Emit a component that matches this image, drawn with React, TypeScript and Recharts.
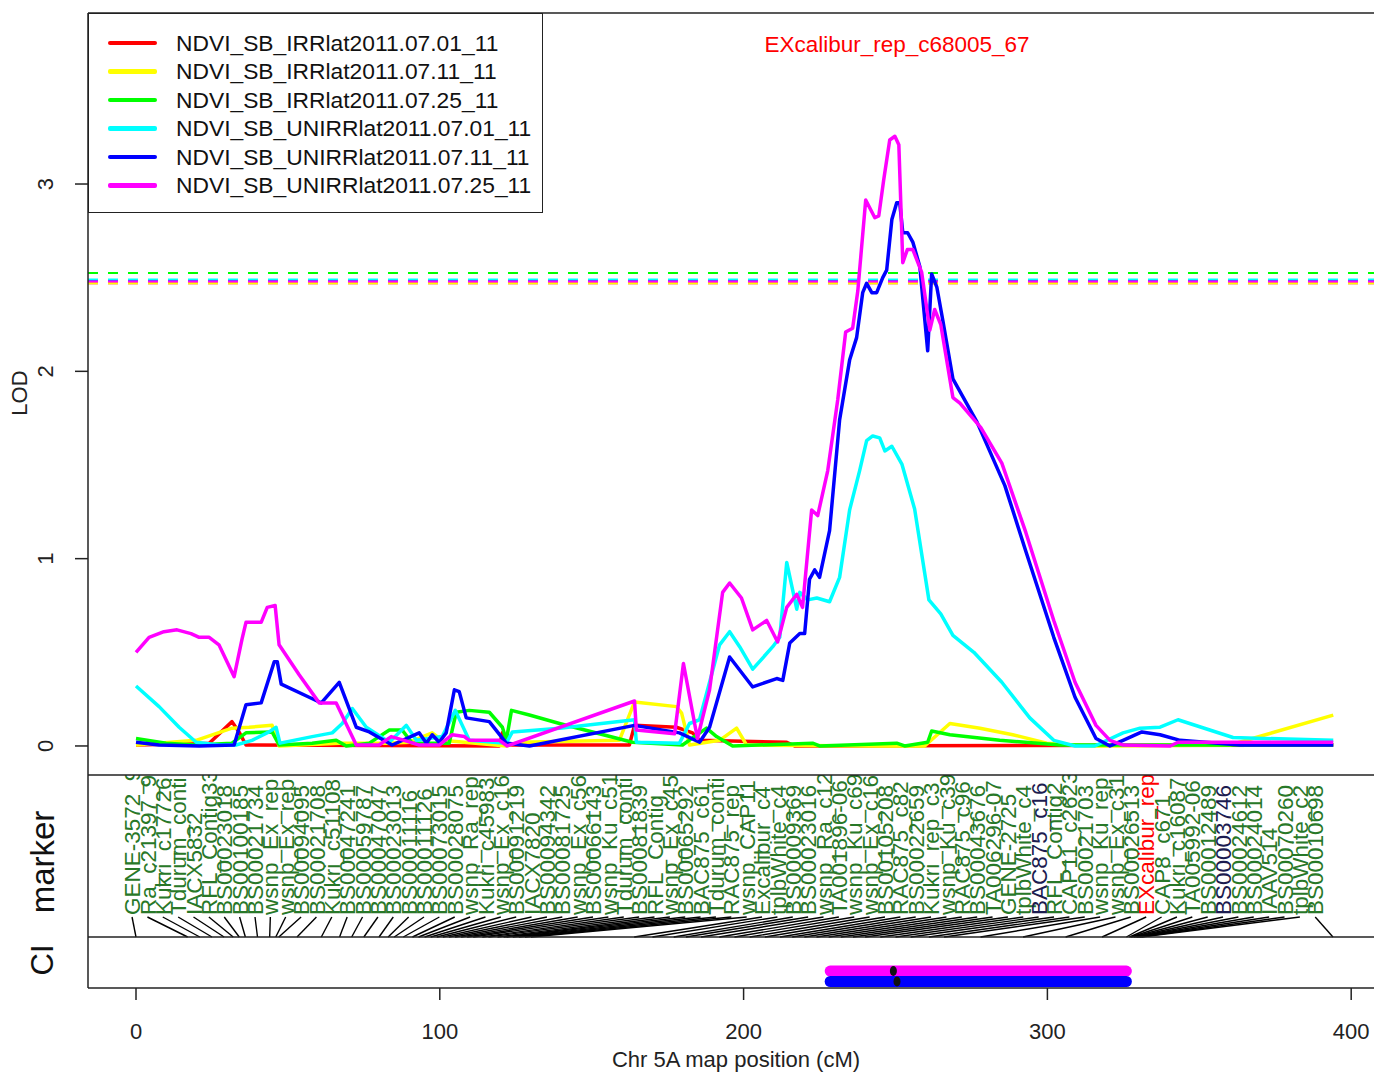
import { LineChart, Line, XAxis, YAxis, ReferenceLine, ComposedChart, Scatter } from 'recharts'

const FONT = '"Liberation Sans", Arial, Helvetica, sans-serif'

// traits, colours and LOD thresholds
const traitNames = [
  'NDVI_SB_IRRlat2011.07.01_11',
  'NDVI_SB_IRRlat2011.07.11_11',
  'NDVI_SB_IRRlat2011.07.25_11',
  'NDVI_SB_UNIRRlat2011.07.01_11',
  'NDVI_SB_UNIRRlat2011.07.11_11',
  'NDVI_SB_UNIRRlat2011.07.25_11',
]
const traitColors = ['#ff0000', '#ffff00', '#00ff00', '#00ffff', '#0000ff', '#ff00ff']
const thresholds = [2.47, 2.47, 2.525, 2.49, 2.485, 2.48]

// LOD profiles along chr 5A (cM / LOD)
const irr0701Pos = [0, 24.1, 31.6, 33.9, 36.2, 119.6, 120.6, 121.9, 162.4, 164.1, 177.9, 183.2, 185.5, 214.2, 216.8, 394.1]
const irr0701Lod = [0.005, 0.015, 0.13, 0.075, 0.005, 0, 0.07, 0.005, 0.005, 0.11, 0.1, 0.07, 0.03, 0.02, 0, 0.005]

const irr0711Pos = [0, 19.8, 31.6, 37.2, 44.8, 47.1, 66.9, 82.4, 90.0, 97.5, 100.8, 121.9, 126.2, 159.1, 164.1, 177.9, 179.6, 182.2, 192.1, 197.7, 201.0, 244.8, 259.6, 267.9, 277.8, 288.6, 299.8, 314.0, 360.1, 394.1]
const irr0711Lod = [0.005, 0.03, 0.095, 0.1, 0.11, 0, 0.015, 0.015, 0.02, 0.07, 0.03, 0, 0.02, 0.03, 0.235, 0.21, 0.175, 0.005, 0.03, 0.095, 0.005, 0, 0, 0.12, 0.095, 0.06, 0.015, 0, 0.005, 0.165]

const irr0725Pos = [0, 9.9, 19.8, 31.6, 36.2, 44.8, 47.1, 58.0, 65.9, 69.2, 76.8, 83.4, 87.6, 90.9, 103.1, 105.4, 109.7, 116.3, 120.6, 121.9, 123.6, 129.5, 139.4, 163.4, 179.9, 187.8, 191.1, 196.4, 222.7, 225.0, 250.4, 253.0, 260.6, 261.9, 267.9, 284.3, 304.1, 394.1]
const irr0725Lod = [0.04, 0.015, 0.005, 0.015, 0.07, 0.075, 0.005, 0.015, 0.03, 0, 0.015, 0.085, 0.085, 0.015, 0.015, 0.18, 0.19, 0.18, 0.1, 0.03, 0.19, 0.165, 0.12, 0.02, 0.005, 0.095, 0.05, 0, 0.015, 0, 0.015, 0, 0.02, 0.08, 0.06, 0.03, 0.005, 0.005]

const unirr0701Pos = [0, 7.6, 14.2, 19.8, 27.3, 32.9, 38.2, 43.8, 46.1, 47.4, 58.0, 64.6, 67.9, 71.2, 75.8, 83.4, 89.0, 92.3, 100.8, 105.1, 109.7, 121.9, 123.9, 139.4, 164.1, 164.7, 178.9, 182.2, 185.5, 192.1, 195.4, 198.7, 203.0, 209.6, 211.9, 214.2, 217.5, 218.5, 221.1, 224.1, 228.3, 231.6, 234.9, 238.2, 240.5, 242.5, 244.8, 246.5, 248.8, 252.1, 256.3, 261.0, 264.9, 268.9, 275.8, 285.0, 294.2, 302.1, 309.1, 315.6, 324.9, 330.5, 337.1, 343.0, 361.1, 394.1]
const unirr0701Lod = [0.32, 0.21, 0.1, 0.02, 0.005, 0.005, 0.03, 0.075, 0.1, 0.015, 0.05, 0.07, 0.12, 0.2, 0.1, 0.02, 0.11, 0.03, 0.05, 0.19, 0.03, 0.015, 0.075, 0.095, 0.14, 0.02, 0.015, 0.12, 0.14, 0.54, 0.61, 0.53, 0.41, 0.53, 0.58, 0.98, 0.73, 0.82, 0.78, 0.79, 0.77, 0.9, 1.26, 1.47, 1.63, 1.655, 1.645, 1.575, 1.6, 1.505, 1.265, 0.78, 0.705, 0.59, 0.5, 0.34, 0.15, 0.03, 0, 0, 0.07, 0.095, 0.1, 0.14, 0.045, 0.03]

const unirr0711Pos = [0, 7.6, 20.8, 32.3, 36.2, 41.2, 45.5, 46.5, 47.8, 57.0, 61.0, 66.9, 72.5, 76.8, 84.3, 93.2, 95.6, 97.5, 99.8, 102.1, 104.8, 106.4, 108.7, 116.3, 121.9, 129.5, 164.1, 178.9, 185.5, 188.8, 195.4, 203.0, 210.9, 212.9, 215.2, 218.5, 220.1, 221.7, 223.4, 225.0, 228.3, 231.6, 234.9, 237.2, 239.2, 240.5, 242.2, 243.8, 245.8, 247.1, 248.8, 250.4, 251.4, 252.4, 254.0, 255.7, 258.0, 260.6, 261.9, 263.6, 265.6, 268.9, 276.8, 286.0, 292.9, 302.1, 309.1, 316.0, 320.6, 324.9, 331.1, 337.1, 343.7, 363.4, 394.1]
const unirr0711Lod = [0.02, 0.005, 0, 0.005, 0.22, 0.23, 0.45, 0.45, 0.33, 0.26, 0.23, 0.34, 0.1, 0.075, 0.005, 0.07, 0.015, 0.06, 0.02, 0.07, 0.3, 0.29, 0.15, 0.13, 0.015, 0, 0.11, 0.07, 0.02, 0.1, 0.475, 0.315, 0.36, 0.35, 0.55, 0.6, 0.6, 0.89, 0.94, 0.9, 1.15, 1.74, 2.06, 2.18, 2.42, 2.47, 2.42, 2.42, 2.5, 2.54, 2.81, 2.9, 2.9, 2.74, 2.74, 2.69, 2.56, 2.11, 2.52, 2.45, 2.27, 1.96, 1.73, 1.39, 1.04, 0.58, 0.26, 0.04, 0, 0.03, 0.075, 0.06, 0.03, 0.005, 0.005]

const unirr0725Pos = [0, 4.3, 9.2, 13.5, 18.1, 20.8, 24.1, 27.3, 32.3, 34.9, 36.2, 41.2, 43.2, 45.8, 47.1, 53.7, 60.3, 65.9, 72.5, 80.0, 84.0, 88.3, 93.2, 99.8, 104.1, 108.1, 109.7, 119.6, 122.2, 164.1, 164.7, 177.3, 180.2, 184.8, 188.8, 193.1, 195.4, 199.3, 203.0, 207.6, 211.2, 214.2, 217.5, 219.4, 222.4, 224.4, 227.7, 231.0, 233.6, 235.9, 237.6, 240.2, 243.2, 244.5, 246.1, 248.1, 249.8, 251.1, 252.4, 253.9, 255.7, 258.6, 261.3, 262.9, 264.9, 268.9, 271.2, 278.1, 285.0, 292.9, 302.1, 309.1, 316.0, 320.6, 324.9, 340.4, 343.0, 394.1]
const unirr0725Lod = [0.5, 0.58, 0.61, 0.62, 0.6, 0.58, 0.58, 0.54, 0.37, 0.57, 0.66, 0.66, 0.74, 0.75, 0.54, 0.38, 0.23, 0.23, 0.005, 0.005, 0.05, 0.03, 0.005, 0.005, 0.06, 0.05, 0.03, 0.03, 0, 0.24, 0.085, 0.065, 0.44, 0.04, 0.3, 0.82, 0.87, 0.79, 0.62, 0.67, 0.555, 0.74, 0.81, 0.74, 1.26, 1.23, 1.47, 1.85, 2.21, 2.23, 2.43, 2.915, 2.82, 2.83, 3.02, 3.235, 3.255, 3.21, 2.58, 2.65, 2.65, 2.53, 2.22, 2.33, 2.25, 1.86, 1.83, 1.7, 1.51, 1.14, 0.67, 0.34, 0.11, 0.03, 0.005, 0, 0.02, 0.02]

// markers: label text and map position (cM)
const markerNames = [
  'GENE-3572_96', 'Ra_c21397_96', 'Kukri_c17726', 'Tdurum_conti', 'IACX5832', 'RFL_Contig33', 'BS00023018', 'BS00100185',
  'BS00021734', 'wsnp_Ex_rep', 'wsnp_Ex_rep', 'BS00094095', 'BS00021708', 'Kukri_c51108', 'BS00047241', 'BS00059787',
  'BS00047047', 'BS00023013', 'BS00011116', 'BS00011126', 'BS00073015', 'BS00028075', 'wsnp_Ra_rep', 'Kukri_c45983',
  'wsnp_Ex_c16', 'BS00091219', 'IACX7820', 'BS00094342', 'BS00081725', 'wsnp_Ex_c56', 'BS00066143', 'wsnp_Ku_c51',
  'Tdurum_conti', 'BS00081839', 'RFL_Contig', 'wsnp_Ex_c45', 'BS00065292', 'BAC875_c61', 'Tdurum_conti', 'RAC875_rep',
  'wsnp_CAP11', 'Excalibur_c4', 'tplbWhite_c4', 'BS00009369', 'BS00023016', 'wsnp_Ra_c12', 'TA001896-06', 'wsnp_Ku_c69',
  'wsnp_Ex_c16', 'BS00105208', 'RAC875_c82', 'BS00022659', 'Kukri_rep_c3', 'wsnp_Ku_c39', 'RAC875_c96', 'BS00043676',
  'TA006296-07', 'GENE-2725', 'tplbWhite_c4', 'BAC875_c16', 'RFL_Contig2', 'CAP11_c2623', 'BS00021703', 'wsnp_Ku_rep',
  'wsnp_Ex_c31', 'BS00026513', 'EXcalibur_rep', 'CAP8_c671', 'Kukri_c16087', 'TA005992-06', 'BS00012489', 'BS00003746',
  'BS00024612', 'BS00024014', 'IAAV514', 'BS00070260', 'tplbWhite_c2', 'BS00010698',
]
const markerCm = [
  0, 17, 21, 25, 29, 32, 34, 36, 40, 44, 46, 47, 53, 61, 67, 71, 75,
  80, 83, 85, 88, 91, 93, 95, 97, 99, 101, 103, 105, 107, 109, 111, 114, 116, 119, 121, 122, 124, 126, 128, 130,
  164, 170, 177, 181, 186, 192, 197, 202, 207, 212, 216, 220, 224, 228, 232, 236, 240, 245, 250, 255, 261, 266, 278, 292, 306, 318,
  326, 327, 327.5, 328, 328.5, 329, 329.5, 330, 330.5, 331,
  394,
]
const peakMarker = 'EXcalibur_rep'
const darkMarkers = ['BAC875_c16', 'BS00003746']

// confidence intervals for the two traits over threshold
const ciTraits = [5, 4]
const ciLower = [228.5, 228.5]
const ciUpper = [326, 326]
const ciPeak = [249.3, 250.5]
const ciLane = [1.33, 0.51]

const xTicks = [0, 100, 200, 300, 400]
const lodTicks = [0, 1, 2, 3]

const X_DOMAIN = [-15.8, 410.8]
const LABEL_START = -1.3
const LABEL_STEP = 5.058

const profiles = [
  [irr0701Pos, irr0701Lod],
  [irr0711Pos, irr0711Lod],
  [irr0725Pos, irr0725Lod],
  [unirr0701Pos, unirr0701Lod],
  [unirr0711Pos, unirr0711Lod],
  [unirr0725Pos, unirr0725Lod],
]

const series = traitNames.map((name, i) => ({
  name,
  color: traitColors[i],
  data: profiles[i][0].map((x, j) => ({ x, y: profiles[i][1][j] })),
}))

const labelCm = markerNames.map((_, i) => LABEL_START + i * LABEL_STEP)

// each marker label is joined to its map position
const connectors = markerCm.map((cm, i) => [
  { x: labelCm[i], y: 1 },
  { x: cm, y: 0 },
])

const LodTick = ({ y, payload }: any) => (
  <text transform={`translate(45,${y}) rotate(-90)`} textAnchor="middle" dy="0.36em" fontSize={22} fill="#222">
    {payload.value}
  </text>
)

const MarkerTick = ({ x, index }: any) => {
  const name = markerNames[index]
  let fill = '#287828'
  if (name === peakMarker) fill = '#ff0000'
  else if (darkMarkers.includes(name)) fill = '#1c1c50'
  return (
    <text transform={`translate(${x},915) rotate(-90)`} dy="0.36em" fontSize={22.5} fill={fill}>
      {name}
    </text>
  )
}

const PosTick = ({ x, payload }: any) => (
  <text x={x} y={1031} dy="0.36em" textAnchor="middle" fontSize={22} fill="#222">
    {payload.value}
  </text>
)

const PeakDot = ({ cx, cy }: any) => <ellipse cx={cx} cy={cy} rx={3.5} ry={5} fill="#111" />

export default function App() {
  return (
    <div style={{ position: 'absolute', left: 0, top: 0, width: 1374, height: 1074, overflow: 'hidden', background: '#fff', fontFamily: FONT }}>
      {/* CI panel + x axis */}
      <div style={{ position: 'absolute', left: 0, top: 0 }}>
        <ComposedChart width={1400} height={1074} margin={{ top: 937, right: 16, bottom: 0, left: 88 }}>
          <XAxis
            type="number"
            dataKey="x"
            domain={X_DOMAIN}
            allowDataOverflow
            ticks={xTicks}
            interval={0}
            height={86}
            tickSize={12}
            axisLine={false}
            tickLine={{ stroke: '#222', strokeWidth: 1.5 }}
            tick={<PosTick />}
            label={{ value: 'Chr 5A map position (cM)', position: 'insideBottom', offset: 7, fontSize: 22, fill: '#222' }}
          />
          <YAxis type="number" dataKey="y" domain={[0, 4]} hide />
          {ciTraits.map((t, i) => (
            <Line
              key={'ci' + t}
              data={[{ x: ciLower[i], y: ciLane[i] }, { x: ciUpper[i], y: ciLane[i] }]}
              dataKey="y"
              stroke={traitColors[t]}
              strokeWidth={11}
              strokeLinecap="round"
              dot={false}
              isAnimationActive={false}
            />
          ))}
          <Scatter
            data={ciPeak.map((x, i) => ({ x, y: ciLane[i] }))}
            dataKey="y"
            shape={<PeakDot />}
            isAnimationActive={false}
          />
        </ComposedChart>
      </div>

      {/* marker panel */}
      <div style={{ position: 'absolute', left: 0, top: 0 }}>
        <LineChart width={1400} height={950} margin={{ top: 887, right: 16, bottom: 13, left: 88 }}>
          <XAxis
            type="number"
            dataKey="x"
            orientation="top"
            domain={X_DOMAIN}
            allowDataOverflow
            ticks={labelCm}
            interval={0}
            height={30}
            axisLine={false}
            tickLine={false}
            tick={<MarkerTick />}
          />
          <YAxis type="number" dataKey="y" domain={[0, 1]} hide />
          {connectors.map((seg, i) => (
            <Line
              key={'m' + i}
              data={seg}
              dataKey="y"
              stroke="#000"
              strokeWidth={1.4}
              dot={false}
              isAnimationActive={false}
            />
          ))}
        </LineChart>
      </div>

      {/* LOD panel */}
      <div style={{ position: 'absolute', left: 0, top: 0, width: 1374, height: 775, overflow: 'hidden', background: '#fff' }}>
        <LineChart width={1400} height={800} margin={{ top: 13, right: 16, bottom: 25, left: 0 }}>
          <XAxis type="number" dataKey="x" domain={X_DOMAIN} allowDataOverflow hide />
          <YAxis
            type="number"
            domain={[-0.155, 3.913]}
            allowDataOverflow
            ticks={lodTicks}
            width={88}
            tickSize={13}
            axisLine={false}
            tickLine={{ stroke: '#222', strokeWidth: 1.5 }}
            tick={<LodTick />}
          />
          {[0, 1, 2, 4, 3, 5].map((i) => (
            <ReferenceLine key={'t' + i} y={thresholds[i]} stroke={traitColors[i]} strokeWidth={2} strokeDasharray="10 10" />
          ))}
          {series.map((s) => (
            <Line
              key={s.name}
              data={s.data}
              dataKey="y"
              type="linear"
              stroke={s.color}
              strokeWidth={3.5}
              strokeLinejoin="round"
              dot={false}
              isAnimationActive={false}
            />
          ))}
        </LineChart>
      </div>

      {/* legend */}
      <div style={{ position: 'absolute', left: 88, top: 13, width: 455, height: 200, border: '1.5px solid #222', boxSizing: 'border-box', background: '#fff' }}>
        {series.map((s, i) => (
          <div key={s.name} style={{ position: 'absolute', left: 0, top: 15 + i * 28.5, height: 28, display: 'flex', alignItems: 'center' }}>
            <div style={{ width: 49, height: 4.5, marginLeft: 19, background: s.color, borderRadius: 2 }} />
            <span style={{ marginLeft: 19, fontSize: 22.8, color: '#111', whiteSpace: 'nowrap' }}>{s.name}</span>
          </div>
        ))}
      </div>

      {/* frame and titles */}
      <svg width={1374} height={1074} style={{ position: 'absolute', left: 0, top: 0, pointerEvents: 'none' }}>
        <g stroke="#222" strokeWidth={1.5}>
          <line x1={88} y1={13} x2={88} y2={988} />
          <line x1={88} y1={13} x2={1374} y2={13} />
          <line x1={88} y1={775} x2={1374} y2={775} />
          <line x1={88} y1={937} x2={1374} y2={937} />
          <line x1={88} y1={988} x2={1374} y2={988} />
        </g>
        <text x={897} y={44} dy="0.36em" textAnchor="middle" fontSize={22.5} fill="#ff0000">
          EXcalibur_rep_c68005_67
        </text>
        <text transform="translate(27,393) rotate(-90)" textAnchor="middle" fontSize={22} fill="#222">
          LOD
        </text>
        <text transform="translate(42,862) rotate(-90)" textAnchor="middle" dy="0.36em" fontSize={33} fill="#111">
          marker
        </text>
        <text transform="translate(42,960) rotate(-90)" textAnchor="middle" dy="0.36em" fontSize={31} fill="#111">
          CI
        </text>
      </svg>
    </div>
  )
}
